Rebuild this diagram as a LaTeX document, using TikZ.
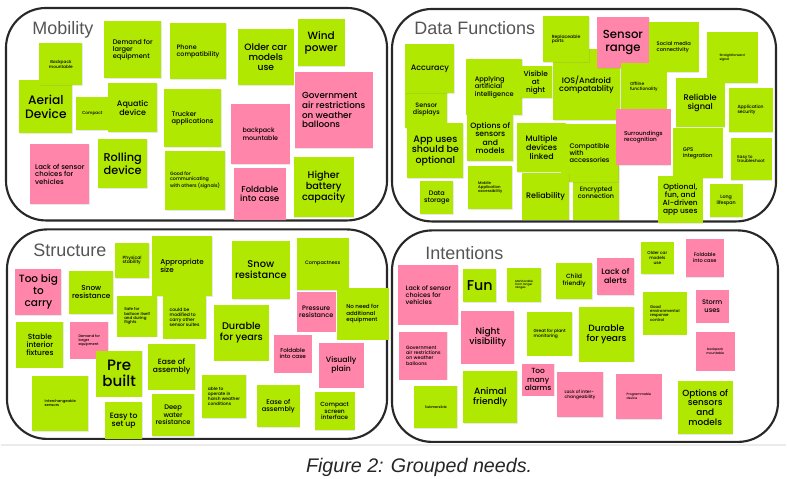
\documentclass[tikz,border=0pt]{standalone}
\usepackage{fontspec}
\setmainfont{Liberation Sans}
\newfontfamily\notefont{Poppins Medium}
\usetikzlibrary{shadows}
\linespread{1.1}
\definecolor{notegreen}{RGB}{176,232,2}
\definecolor{notepink}{RGB}{255,134,170}
\definecolor{framegray}{RGB}{40,40,40}
\definecolor{titlegray}{RGB}{85,85,85}

\tikzset{every picture/.style={line width=0.75pt}}
\tikzset{
	note/.style={rectangle, anchor=north west, inner sep=1pt, align=center, text=black, drop shadow={opacity=0.18, shadow xshift=0.5pt, shadow yshift=-0.6pt}},
	gnote/.style={note, fill=notegreen},
	pnote/.style={note, fill=notepink},
	wh/.style 2 args={minimum width=#1*0.75pt, minimum height=#2*0.75pt},
	fsz/.style={font=\notefont\fontsize{#1}{#1}\selectfont},
	groupframe/.style={draw=framegray, line width=1.6pt, rounded corners=30pt},
	grouptitle/.style={anchor=base west, text=titlegray, font=\fontsize{13.5}{13.5}\selectfont, inner sep=0pt},
}

\begin{document}
\begin{tikzpicture}[x=0.75pt,y=0.75pt,yscale=-1,xscale=1]
	%set diagram size 787 x 480
	\path[fill=white] (0,0) rectangle (787,480);
	
	%Shape: Group frames
	\draw[groupframe] (5,8) rectangle (387,221);
	\draw[groupframe] (392,9) rectangle (777,222);
	\draw[groupframe] (6,230) rectangle (387,440);
	\draw[groupframe] (392,231) rectangle (779,443);
	%Straight Lines: page rule
	\draw[draw=black!8, line width=1.5pt] (0,446) -- (787,446);
	
	%Titles
	\node[grouptitle] (tMobility) at (31,35) {Mobility};
	\node[grouptitle] (tData) at (414,35) {Data Functions};
	\node[grouptitle] (tStructure) at (32,257) {Structure};
	\node[grouptitle] (tIntentions) at (425,260) {Intentions};
	
	%Notes: Mobility
	\node[gnote, wh={53}{53}, fsz=9.2] (mAerial) at (18,80) {Aerial\\Device};
	\node[gnote, wh={43}{42}, fsz=3.2] (mBackpack) at (38,43) {Backpack\\mountable};
	\node[gnote, wh={57}{57}, fsz=5, align=left] (mDemand) at (103,21) {Demand for\\larger\\equipment};
	\node[gnote, wh={56}{56}, fsz=4.8, align=left] (mPhone) at (169,23) {Phone\\compatibility};
	\node[gnote, wh={56}{56}, fsz=6.9] (mOlder) at (237,29) {Older car\\models\\use};
	\node[gnote, wh={47}{47}, fsz=7.9] (mWind) at (297,19) {Wind\\power};
	\node[pnote, wh={78}{76}, fsz=6.6, align=left] (mGov) at (294,72) {Government\\air restrictions\\on weather\\balloons};
	\node[gnote, wh={32}{33}, fsz=3.2] (mCompact) at (75,97) {Compact};
	\node[gnote, wh={49}{49}, fsz=6] (mAquatic) at (107,83) {Aquatic\\device};
	\node[gnote, wh={57}{58}, fsz=5, align=left] (mTrucker) at (163,89) {Trucker\\applications};
	\node[pnote, wh={59}{60}, fsz=4.8, align=left] (mBackpackP) at (230,104) {backpack\\mountable};
	\node[pnote, wh={59}{60}, fsz=5.2, align=left] (mLack) at (29,144) {Lack of sensor\\choices for\\vehicles};
	\node[gnote, wh={49}{49}, fsz=8.5] (mRolling) at (97,139) {Rolling\\device};
	\node[gnote, wh={60}{59}, fsz=3.6, align=left] (mGood) at (164,151) {Good for\\communicating\\with others (signals)};
	\node[pnote, wh={52}{52}, fsz=6.4] (mFoldable) at (233,168) {Foldable\\into case};
	\node[gnote, wh={60}{60}, fsz=7.3] (mHigher) at (293,157) {Higher\\battery\\capacity};
	
	%Notes: Data Functions
	\node[gnote, wh={42}{38}, fsz=4.8] (dSensorDisp) at (405,90) {Sensor\\displays};
	\node[gnote, wh={49}{49}, fsz=6] (dAccuracy) at (405,44) {Accuracy};
	\node[gnote, wh={56}{56}, fsz=5, align=left] (dApplying) at (466,59) {Applying\\artificial\\intelligence};
	\node[gnote, wh={33}{32}, fsz=5.5] (dVisible) at (519,66) {Visible\\at\\night};
	\node[gnote, wh={67}{71}, fsz=6] (dIOS) at (553,49) {IOS/Android\\compatablity};
	\node[gnote, wh={46}{46}, fsz=3.4, align=left] (dReplace) at (543,16) {Replaceable\\parts};
	\node[pnote, wh={52}{51}, fsz=8.8] (dSensorRange) at (597,17) {Sensor\\range};
	\node[gnote, wh={50}{50}, fsz=3.9, align=left] (dSocial) at (649,22) {Social media\\connectivity};
	\node[gnote, wh={51}{51}, fsz=2.4, align=left] (dStraight) at (707,32) {Straightforward\\signal};
	\node[gnote, wh={46}{47}, fsz=3.3, align=left] (dOffline) at (621,63) {Offline\\functionality};
	\node[gnote, wh={49}{49}, fsz=6.2] (dReliable) at (676,78) {Reliable\\signal};
	\node[gnote, wh={44}{44}, fsz=3.4, align=left] (dAppSec) at (729,88) {Application\\security};
	\node[gnote, wh={56}{55}, fsz=7.1] (dAppUses) at (407,123) {App uses\\should be\\optional};
	\node[gnote, wh={46}{46}, fsz=5.8] (dOptions) at (467,115) {Options of\\sensors\\and\\models};
	\node[gnote, wh={44}{43}, fsz=2.9, align=left] (dMobile) at (468,166) {Mobile\\Application\\accessibility};
	\node[gnote, wh={33}{33}, fsz=4.9] (dStorage) at (420,181) {Data\\storage};
	\node[gnote, wh={49}{49}, fsz=6] (dMultiple) at (517,123) {Multiple\\devices\\linked};
	\node[gnote, wh={46}{55}, fsz=4.8] (dEncrypted) at (573,165) {Encrypted\\connection};
	\node[gnote, wh={57}{58}, fsz=5, align=left] (dCompatible) at (561,124) {Compatible\\with\\accessories};
	\node[gnote, wh={47}{47}, fsz=6] (dReliability) at (522,173) {Reliability};
	\node[pnote, wh={55}{56}, fsz=4.3, align=left] (dSurround) at (616,109) {Surroundings\\recognition};
	\node[gnote, wh={50}{50}, fsz=4, align=left] (dGPS) at (673,128) {GPS\\integration};
	\node[gnote, wh={41}{42}, fsz=3.2, align=left] (dEasy) at (731,138) {Easy to\\troubleshoot};
	\node[gnote, wh={45}{47}, fsz=5.6] (dOptional) at (658,176) {Optional,\\fun, and\\AI-driven\\app uses};
	\node[gnote, wh={33}{33}, fsz=3.6] (dLong) at (710,184) {Long\\lifespan};
	
	%Notes: Structure
	\node[gnote, wh={34}{35}, fsz=3.4, align=left] (sPhysical) at (114,243) {Physical\\stability};
	\node[gnote, wh={60}{60}, fsz=5.4, align=left] (sSize) at (151,236) {Appropriate\\size};
	\node[gnote, wh={58}{58}, fsz=7.4] (sSnow) at (231,241) {Snow\\resistance};
	\node[gnote, wh={52}{52}, fsz=3.7] (sCompactness) at (296,238) {Compactness};
	\node[pnote, wh={46}{46}, fsz=7.9] (sTooBig) at (14,269) {Too big\\to\\carry};
	\node[gnote, wh={44}{43}, fsz=5.5] (sSnowSmall) at (68,271) {Snow\\resistance};
	\node[gnote, wh={40}{41}, fsz=3, align=left] (sSafe) at (116,296) {Safe for\\balloon itself\\and during\\flights};
	\node[gnote, wh={43}{43}, fsz=3.4, align=left] (sModified) at (162,296) {could be\\modified to\\carry other\\sensor suites};
	\node[gnote, wh={55}{56}, fsz=7.3] (sDurable) at (213,305) {Durable\\for years};
	\node[pnote, wh={39}{40}, fsz=4.9] (sPressure) at (296,292) {Pressure\\resistance};
	\node[gnote, wh={52}{52}, fsz=4.2, align=left] (sNoNeed) at (336,288) {No need for\\additional\\equipment};
	\node[gnote, wh={47}{46}, fsz=5.6] (sStable) at (15,322) {Stable\\interior\\fixtures};
	\node[pnote, wh={38}{37}, fsz=2.7, align=left] (sDemand) at (69,322) {Demand for\\larger\\equipment};
	\node[gnote, wh={46}{46}, fsz=11.3] (sPrebuilt) at (95,351) {Pre\\built};
	\node[gnote, wh={47}{46}, fsz=5.7] (sEase) at (147,344) {Ease of\\assembly};
	\node[pnote, wh={38}{38}, fsz=4.3] (sFoldable) at (273,335) {Foldable\\into case};
	\node[pnote, wh={45}{45}, fsz=5.8] (sVisually) at (318,343) {Visually\\plain};
	\node[gnote, wh={56}{56}, fsz=2.8, align=left] (sInterchange) at (31,376) {Interchangeable\\sensors};
	\node[gnote, wh={37}{37}, fsz=5.8] (sEasySetup) at (104,403) {Easy to\\set up};
	\node[gnote, wh={42}{43}, fsz=5] (sDeep) at (151,394) {Deep\\water\\resistance};
	\node[gnote, wh={44}{44}, fsz=3.3, align=left] (sHarsh) at (201,375) {able to\\operate in\\harsh weather\\conditions};
	\node[gnote, wh={43}{43}, fsz=5] (sEaseTwo) at (256,385) {Ease of\\assembly};
	\node[gnote, wh={40}{39}, fsz=4.5] (sCompactScreen) at (314,392) {Compact\\screen\\interface};
	
	%Notes: Intentions
	\node[gnote, wh={33}{32}, fsz=3.2] (iOlder) at (641,242) {Older car\\models\\use};
	\node[pnote, wh={38}{38}, fsz=3.8] (iFoldable) at (686,239) {Foldable\\into case};
	\node[pnote, wh={60}{60}, fsz=4.8, align=left] (iLack) at (398,265) {Lack of sensor\\choices for\\vehicles};
	\node[gnote, wh={33}{33}, fsz=10.7] (iFun) at (463,269) {Fun};
	\node[gnote, wh={34}{34}, fsz=2.2, align=left] (iMonitor) at (507,268) {Monitorable\\from longer\\ranges};
	\node[gnote, wh={36}{36}, fsz=4.6] (iChild) at (556,263) {Child\\friendly};
	\node[pnote, wh={37}{37}, fsz=6] (iAlerts) at (597,258) {Lack of\\alerts};
	\node[gnote, wh={44}{43}, fsz=3, align=left] (iGood) at (643,292) {Good\\environmental\\response\\control};
	\node[pnote, wh={33}{33}, fsz=5] (iStorm) at (696,290) {Storm\\uses};
	\node[pnote, wh={48}{48}, fsz=3.6, align=left] (iGov) at (399,332) {Government\\air restrictions\\on weather\\balloons};
	\node[pnote, wh={53}{53}, fsz=6.8] (iNight) at (461,311) {Night\\visibility};
	\node[gnote, wh={45}{44}, fsz=3.3, align=left] (iPlant) at (527,312) {Great for plant\\monitoring};
	\node[gnote, wh={55}{55}, fsz=6.8] (iDurable) at (579,307) {Durable\\for years};
	\node[pnote, wh={39}{39}, fsz=2.4] (iBackpack) at (696,332) {backpack\\mountable};
	\node[pnote, wh={32}{32}, fsz=5.6] (iAlarms) at (522,364) {Too\\many\\alarms};
	\node[gnote, wh={43}{43}, fsz=2.6] (iSubmersible) at (414,386) {Submersible};
	\node[gnote, wh={54}{53}, fsz=6.8] (iAnimal) at (463,371) {Animal\\friendly};
	\node[pnote, wh={46}{46}, fsz=3.3, align=left] (iInter) at (557,372) {Lack of inter-\\changeability};
	\node[pnote, wh={46}{46}, fsz=2.4, align=left] (iProg) at (616,374) {Programmable\\device};
	\node[gnote, wh={55}{54}, fsz=6.7] (iOptions) at (678,381) {Options of\\sensors\\and\\models};
	
	%Caption
	\node[anchor=base east, inner sep=0pt, text=black!85, font=\itshape\fontsize{14.8}{14.8}\selectfont] (caption) at (533,474) {Figure 2: Grouped needs.};
\end{tikzpicture}
\end{document}
